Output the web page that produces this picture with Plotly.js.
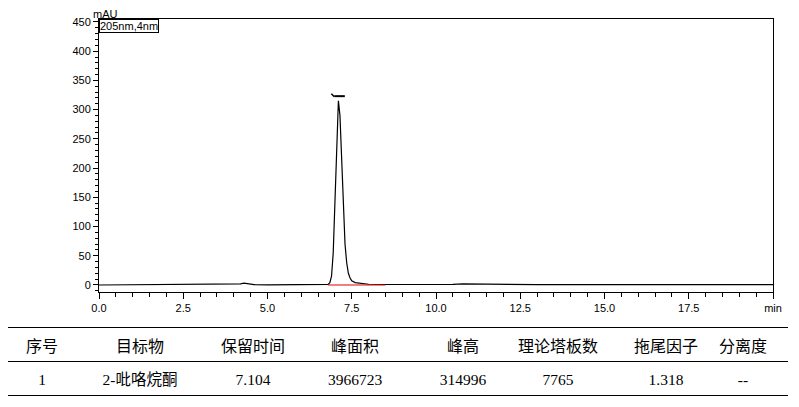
<!DOCTYPE html>
<html><head><meta charset="utf-8">
<script src="https://cdn.plot.ly/plotly-3.0.1.min.js"></script>
<style>
body{margin:0;background:#fff;width:799px;height:407px;overflow:hidden;position:relative}
#chart{position:absolute;left:0;top:0;width:799px;height:330px}
.rule{position:absolute;left:8px;width:780px;height:0;border-top:1.5px solid #000}
.cell{position:absolute;width:160px;margin-left:-80px;text-align:center;white-space:nowrap;line-height:20px}
.h{font-family:"Noto Sans CJK SC",sans-serif;font-size:16px;top:335px}
.d{font-family:"Liberation Serif","Noto Sans CJK SC",serif;font-size:15.5px;top:370px}
</style></head><body>
<div id="chart"></div>
<div class="rule" style="top:327px"></div>
<div class="rule" style="top:361px"></div>
<div class="rule" style="top:395px"></div>
<div id="tbl"></div>
<script>
// chromatogram (min, mAU)
const times = [0,0.5,1,1.5,2,2.5,3,3.3,3.5,3.8,4,4.2,4.3,4.4,4.6,5,5.5,6,6.5,6.75,6.8,6.85,6.9,6.95,7.0,7.05,7.1,7.104,7.15,7.2,7.25,7.3,7.35,7.4,7.45,7.5,7.6,7.8,8.0,8.5,9,9.5,10,10.5,10.8,11.2,11.6,12,13,14,15,16,16.8,17.5,18,18.5,19,19.5,20];
const mAU   = [0,0.1,0.2,0.2,0.4,0.5,0.8,1,1.2,0.8,1,2,3,2,0.6,0.3,0.3,0.2,0.2,0.4,1,4,15,55,140,245,312,315,290,215,130,70,38,20,12,7,4,2,1.3,0.8,0.6,0.8,0.9,1.2,1.8,1.5,0.9,0.7,0.6,0.5,0.5,0.6,0.9,0.6,0.5,0.7,0.9,0.6,0.5];
const peakTime = 7.104, peakHeight = 315;
const baselineStart = 6.8, baselineEnd = 8.5;
const xTicks = [0,2.5,5,7.5,10,12.5,15,17.5,20];
const xTickText = ["0.0","2.5","5.0","7.5","10.0","12.5","15.0","17.5","min"];
const yTicks = [0,50,100,150,200,250,300,350,400,450];
const headers = ["序号","目标物","保留时间","峰面积","峰高","理论塔板数","拖尾因子","分离度"];
const rowVals = ["1","2-吡咯烷酮","7.104","3966723","314996","7765","1.318","--"];
// layout: column centres in px
const colCenters = [42,140,253,355,463,558,666,743];

const tbl=document.getElementById('tbl');
function addCell(txt,cls,cx){const d=document.createElement('div');d.className='cell '+cls;d.style.left=cx+'px';d.textContent=txt;tbl.appendChild(d);}
headers.forEach((h,i)=>addCell(h,'h',colCenters[i]));
rowVals.forEach((v,i)=>addCell(v,'d',colCenters[i]));

const traces=[
 {x:times,y:mAU,type:'scatter',mode:'lines',line:{color:'#000',width:1.2},hoverinfo:'skip'},
 {x:[baselineStart,baselineEnd],y:[0,0],type:'scatter',mode:'lines',line:{color:'#e00000',width:1},hoverinfo:'skip'}
];
const my = peakHeight+8;
const layout={
 width:799,height:330,margin:{l:99,r:26,t:19,b:38},
 paper_bgcolor:'#fff',plot_bgcolor:'#fff',showlegend:false,
 font:{family:'"Liberation Sans",Arial,sans-serif',size:11,color:'#000'},
 xaxis:{range:[0,20],tickvals:xTicks,ticktext:xTickText,ticks:'outside',ticklen:6,tickwidth:1,tickcolor:'#000',
   minor:{dtick:0.5,tick0:0,ticks:'outside',ticklen:4,tickcolor:'#000'},
   showline:true,linecolor:'#000',linewidth:1,mirror:true,showgrid:false,zeroline:false,tickfont:{size:11}},
 yaxis:{range:[-12,455],tickvals:yTicks,ticks:'outside',ticklen:5,tickwidth:1,tickcolor:'#000',
   minor:{dtick:10,tick0:0,ticks:'outside',ticklen:3,tickcolor:'#000'},
   showline:true,linecolor:'#000',linewidth:1,mirror:true,showgrid:false,zeroline:false,tickfont:{size:11}},
 annotations:[
  {text:'mAU',xref:'paper',yref:'paper',x:0,y:1,xanchor:'center',yanchor:'bottom',showarrow:false,font:{size:11},xshift:6,yshift:-3},
  {text:'205nm,4nm',xref:'paper',yref:'paper',x:0,y:1,xanchor:'left',yanchor:'top',showarrow:false,font:{size:11},
   bordercolor:'#000',borderwidth:1,borderpad:0,bgcolor:'#fff'}
 ],
 shapes:[
  {type:'line',xref:'x',yref:'y',x0:peakTime-0.12,x1:peakTime+0.19,y0:my,y1:my,line:{color:'#000',width:2}},
  {type:'line',xref:'x',yref:'y',x0:peakTime-0.21,x1:peakTime-0.12,y0:my+4,y1:my-1,line:{color:'#000',width:1.5}}
 ]
};
Plotly.newPlot('chart',traces,layout,{staticPlot:true,displayModeBar:false});
</script>
</body></html>
